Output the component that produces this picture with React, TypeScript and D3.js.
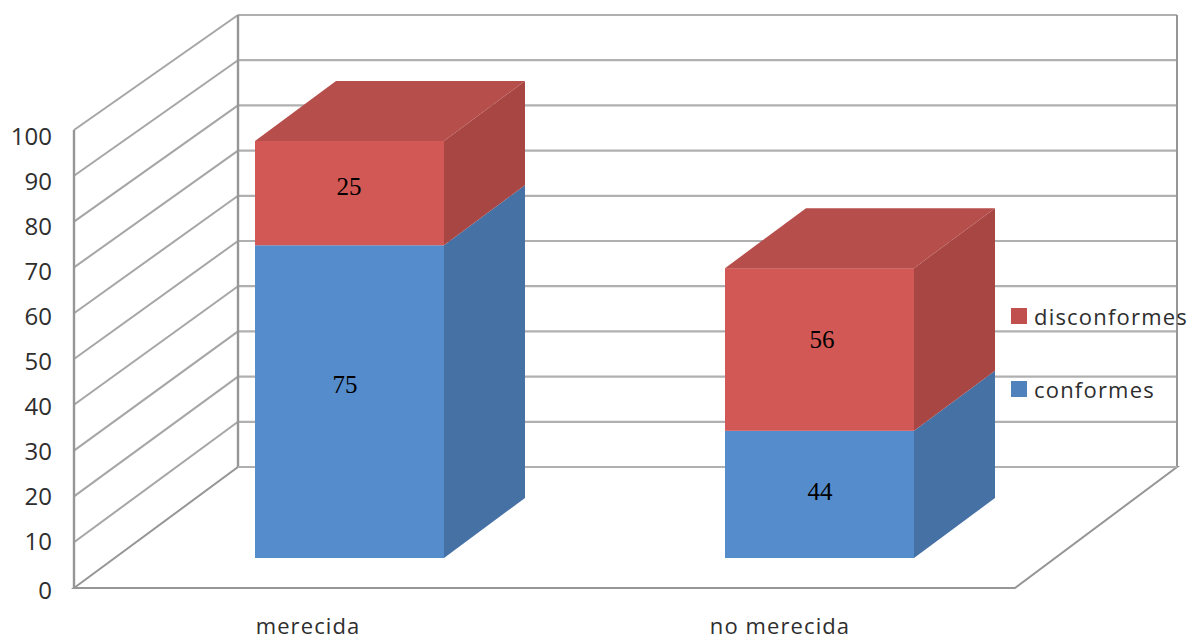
import React from "react";
import * as d3 from "d3";

const categories = ["merecida", "no merecida"];
const conformesPlotted = [75, 30.5];
const disconformesPlotted = [25, 39];
const conformesLabels = ["75", "44"];
const disconformesLabels = ["25", "56"];
const ticks = [0, 10, 20, 30, 40, 50, 60, 70, 80, 90, 100];
const legendNames = ["disconformes", "conformes"];

const W = 1192, H = 638;
const gridCol = "#b0b0b0";
const diagCol = "#a6a6a6";
const axisCol = "#969696";
const sans = "'Open Sans', 'Noto Sans', sans-serif";
const serif = "'Liberation Serif', serif";

const wallY = d3.scaleLinear().domain([0, 100]).range([467, 15]);
const frontY = d3.scaleLinear().domain([0, 100]).range([588, 130]);
const tickLabelY = d3.scaleLinear().domain([0, 100]).range([585, 135]);
const barY = d3.scaleLinear().domain([0, 100]).range([558, 141]);
const barW = 189, dx = 81, dy = 60;
const bx = (i: number) => [255, 725][i];
const poly = (p: number[][]) => p.map(q => q.join(",")).join(" ");

function Block({ x, y0, y1, front, side, top }: { x: number; y0: number; y1: number; front: string; side: string; top?: string }) {
  return (
    <g>
      <rect x={x} y={y1} width={barW} height={y0 - y1} fill={front} />
      <polygon points={poly([[x + barW, y0], [x + barW + dx, y0 - dy], [x + barW + dx, y1 - dy], [x + barW, y1]])} fill={side} />
      {top && <polygon points={poly([[x, y1], [x + dx, y1 - dy], [x + barW + dx, y1 - dy], [x + barW, y1]])} fill={top} />}
    </g>
  );
}

export default function App() {
  return (
    <svg width={W} height={H} style={{ position: "absolute", left: 0, top: 0, background: "#fff" }}>
      {ticks.map(t => (
        <g key={t}>
          <line x1={238} x2={1177} y1={wallY(t)} y2={wallY(t)} stroke={gridCol} strokeWidth={2.2} />
          {t > 0 && <line x1={74} y1={frontY(t)} x2={238} y2={wallY(t)} stroke={diagCol} strokeWidth={2} />}
          <text x={52} y={tickLabelY(t) + (t === 0 ? 14 : 10)} textAnchor="end" fontFamily={sans} fontSize={24} fill="#2e2e2e">{t}</text>
        </g>
      ))}
      <line x1={238} x2={238} y1={wallY(100)} y2={wallY(0)} stroke={axisCol} strokeWidth={2.4} />
      <line x1={1177} x2={1177} y1={wallY(100)} y2={wallY(0)} stroke={axisCol} strokeWidth={2} />
      <line x1={74} x2={74} y1={frontY(100)} y2={frontY(0)} stroke={axisCol} strokeWidth={2.4} />
      <polygon points={poly([[74, 588], [238, 467], [1177, 467], [1015, 588]])} fill="#fff" stroke={axisCol} strokeWidth={2} />
      <line x1={238} x2={1177} y1={467} y2={467} stroke={gridCol} strokeWidth={2.2} />

      {categories.map((c, i) => {
        const y0 = barY(0), y1 = barY(conformesPlotted[i]), y2 = barY(conformesPlotted[i] + disconformesPlotted[i]);
        return (
          <g key={c}>
            <Block x={bx(i)} y0={y0} y1={y1} front="#558ccc" side="#4671a5" />
            <Block x={bx(i)} y0={y1} y1={y2} front="#d25856" side="#a84644" top="#b64e4b" />
            <text x={[345, 820][i]} y={[393, 500][i]} textAnchor="middle" fontFamily={serif} fontSize={25} fill="#000">{conformesLabels[i]}</text>
            <text x={[349, 822][i]} y={[195, 348][i]} textAnchor="middle" fontFamily={serif} fontSize={25} fill="#000">{disconformesLabels[i]}</text>
            <text x={[308, 780][i]} y={634} textAnchor="middle" fontFamily={sans} fontSize={22} letterSpacing={1.1} fill="#2e2e2e">{c}</text>
          </g>
        );
      })}

      {legendNames.map((n, i) => (
        <g key={n}>
          <rect x={1011} y={[308, 381][i]} width={16} height={16} fill={["#c0504d", "#4f81bd"][i]} />
          <text x={1034} y={[325, 398][i]} fontFamily={sans} fontSize={22} letterSpacing={1.2} fill="#2e2e2e">{n}</text>
        </g>
      ))}
    </svg>
  );
}
